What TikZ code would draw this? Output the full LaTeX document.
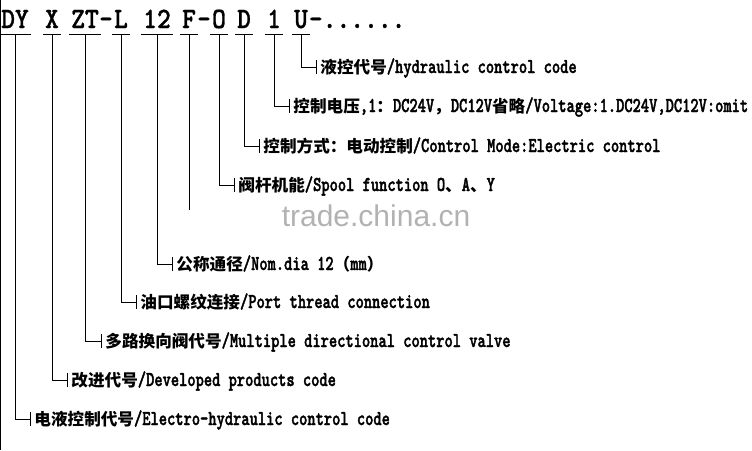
\documentclass[tikz,border=0pt]{standalone}
\usepackage{fontspec}
\usepackage{tikz}
\newfontfamily\cjkfont{Noto Sans CJK SC}
\newfontfamily\latfont[FakeStretch=0.74,Scale=1.28,FakeBold=1.6]{lmmonolt10-bold.otf}
\newfontfamily\codefont[FakeStretch=0.89,FakeBold=1]{lmmonolt10-bold.otf}
\newfontfamily\markfont{Liberation Sans}
\newcommand{\zh}[1]{{\cjkfont #1}}

\begin{document}
\begin{tikzpicture}
  [x=1pt,y=-1pt,line width=0.9pt,
   code/.style={anchor=base,inner xsep=1.5pt,inner ysep=5.5pt,text depth=0pt,
     font=\fontsize{29.5}{30}\selectfont\codefont},
   lbl/.style={anchor=west,inner xsep=4pt,inner ysep=0pt,text height=12.5pt,
     text depth=0.5pt,font=\fontsize{16.6}{20}\selectfont\bfseries\latfont}]
  \useasboundingbox (0,0) rectangle (752,450);
  \draw (0.6,0) -- (0.6,450);
  % model code
  \node[code] (dy)  at (15,28)  {DY};
  \node[code] (x)   at (52,28)  {X};
  \node[code] (zt)  at (85,28)  {ZT};
  \node[code] (da)  at (106,28) {-};
  \node[code] (l)   at (121,28) {L};
  \node[code] (n12) at (157,28) {12};
  \node[code] (f)   at (189,28) {F};
  \node[code] (db)  at (204,28) {-};
  \node[code] (o)   at (219,28) {O};
  \node[code] (d)   at (244,28) {D};
  \node[code] (n1)  at (274,28) {1};
  \node[code] (u)   at (301,28) {U};
  \node[code,anchor=base west] (dots) at (307,28) {-......};
  % labels
  \node[lbl] (hyd)   at (316,67)  {\zh{液控代号}/hydraulic control code};
  \node[lbl] (volt)  at (289,106) {\zh{控制电压},1\zh{：}DC24V\zh{，}DC12V\zh{省略}/Voltage:1.DC24V,DC12V:omit};
  \node[lbl] (mode)  at (259,146) {\zh{控制方式：电动控制}/Control Mode:Electric control};
  \node[lbl] (spool) at (234,185) {\zh{阀杆机能}/Spool function O\zh{、}A\zh{、}Y};
  \node[lbl] (dia)   at (172,264) {\zh{公称通径}/Nom.dia 12\zh{（}mm\zh{）}};
  \node[lbl] (port)  at (136,302) {\zh{油口螺纹连接}/Port thread connection};
  \node[lbl] (mdv)   at (101,341) {\zh{多路换向阀代号}/Multiple directional control valve};
  \node[lbl] (dev)   at (67,380)  {\zh{改进代号}/Developed products code};
  \node[lbl] (ehc)   at (30,419)  {\zh{电液控制代号}/Electro-hydraulic control code};
  \node[font=\fontsize{30}{30}\selectfont\markfont,text=black!30] (mark) at (376,216) {trade.china.cn};
  % leaders
  \foreach \c/\t in {dy/ehc, x/dev, zt/mdv, l/port, n12/dia, o/spool, d/mode, n1/volt, u/hyd}{
    \draw (\c.south west) -- (\c.south east);
    \draw (\c.south) |- (\t.west);
    \draw ([yshift=7pt]\t.west) -- ([yshift=-7pt]\t.west);
  }
  \coordinate (fend) at (189,210);
  \draw (f.south west) -- (f.south east);
  \draw (f.south) -- (fend);
\end{tikzpicture}
\end{document}
